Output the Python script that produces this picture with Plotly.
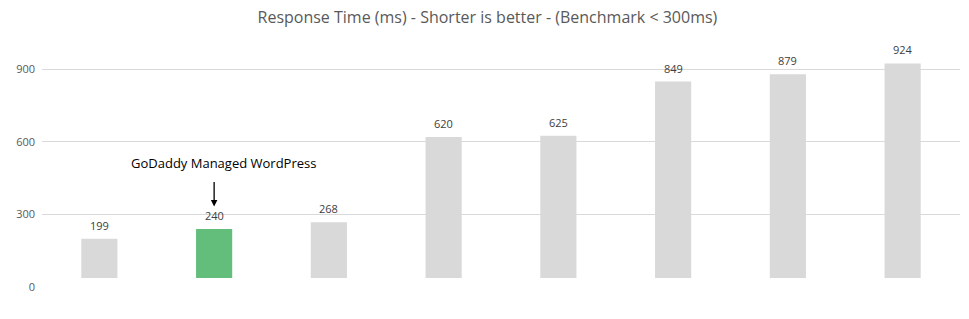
import plotly.graph_objects as go

categories = ["Host 1", "GoDaddy Managed WordPress", "Host 3", "Host 4",
              "Host 5", "Host 6", "Host 7", "Host 8"]
response_ms = [199, 240, 268, 620, 625, 849, 879, 924]
highlight = "GoDaddy Managed WordPress"
y_ticks = [0, 300, 600, 900]

GRAY = "#D9D9D9"
GREEN = "#63BE7B"
colors = [GREEN if c == highlight else GRAY for c in categories]
FONT = "Open Sans, sans-serif"

fig = go.Figure()
fig.add_trace(go.Bar(
    x=categories, y=response_ms, marker_color=colors,
    marker_line_width=0, width=0.315, hoverinfo="x+y",
))

annotations = []
for c, v in zip(categories, response_ms):
    annotations.append(dict(
        x=c, y=v, text=str(v), showarrow=False, yanchor="bottom", yshift=4,
        font=dict(family=FONT, size=11, color="#404040"),
    ))
# callout text and arrow for highlighted bar
annotations.append(dict(
    x=highlight, y=511, text="GoDaddy Managed WordPress", showarrow=False,
    xshift=9, font=dict(family=FONT, size=13, color="#000000"),
))
annotations.append(dict(
    x=highlight, y=333, text="", showarrow=True, ax=0, ay=-26,
    arrowhead=2, arrowsize=1, arrowwidth=1.3, arrowcolor="#000000",
))

fig.update_layout(
    width=969, height=319,
    margin=dict(l=42, r=9, t=45, b=32),
    paper_bgcolor="white", plot_bgcolor="white",
    title=dict(text="Response Time (ms) - Shorter is better - (Benchmark < 300ms)",
               x=0.503, xanchor="center", y=0.945, yanchor="middle",
               font=dict(family=FONT, size=16, color="#595959")),
    showlegend=False,
    annotations=annotations,
    bargap=0.6,
)
fig.update_xaxes(showticklabels=False, showgrid=False, zeroline=False, showline=False, ticks="")
fig.update_yaxes(range=[0, 1000], tickvals=y_ticks, showgrid=True, gridcolor="#D9D9D9",
                 gridwidth=1, zeroline=False, showline=False, ticks="",
                 tickfont=dict(family=FONT, size=11, color="#595959"),
                 ticklabelstandoff=6)
# white band hiding bar bottoms, as in the reference
fig.add_shape(type="rect", xref="paper", yref="y", x0=0, x1=1, y0=0, y1=37,
              fillcolor="white", line_width=0, layer="above")

fig.write_html("out.html")
